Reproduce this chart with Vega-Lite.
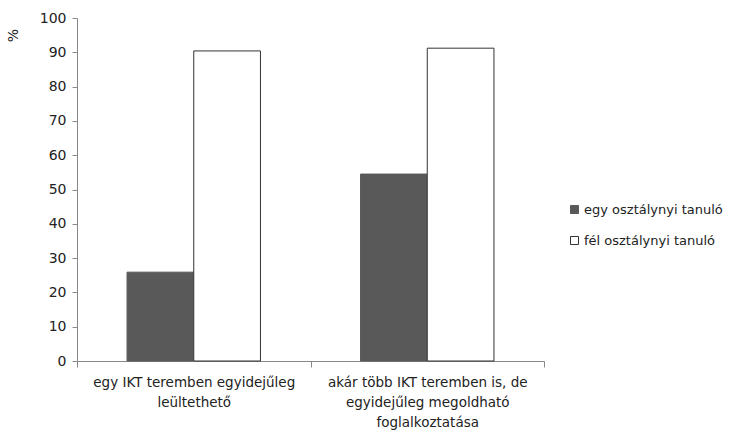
{
  "$schema": "https://vega.github.io/schema/vega-lite/v6.json",
  "autosize": {"type": "none"},
  "padding": {"left": 77, "top": 18, "right": 194, "bottom": 75},
  "width": 467,
  "height": 343,
  "background": "white",
  "config": {
    "view": {"stroke": null},
    "font": "DejaVu Sans",
    "axis": {"labelFont": "DejaVu Sans", "titleFont": "DejaVu Sans", "labelColor": "#222", "domainColor": "#888", "tickColor": "#888"}
  },
  "data": {
    "values": [
      {"cat": "egy IKT teremben egyidejűleg|leültethető", "series": "egy osztálynyi tanuló", "value": 25.9},
      {"cat": "egy IKT teremben egyidejűleg|leültethető", "series": "fél osztálynyi tanuló", "value": 90.4},
      {"cat": "akár több IKT teremben is, de|egyidejűleg megoldható|foglalkoztatása", "series": "egy osztálynyi tanuló", "value": 54.5},
      {"cat": "akár több IKT teremben is, de|egyidejűleg megoldható|foglalkoztatása", "series": "fél osztálynyi tanuló", "value": 91.2}
    ]
  },
  "mark": {"type": "bar", "stroke": "#333", "strokeWidth": 1},
  "encoding": {
    "x": {
      "field": "cat", "type": "nominal", "sort": null,
      "scale": {"paddingInner": 0, "paddingOuter": 0},
      "axis": {
        "title": null, "labelAngle": 0, "tickBand": "extent", "tickSize": 6,
        "labelExpr": "split(datum.label, '|')", "labelFontSize": 13.5, "labelLineHeight": 20,
        "labelPadding": 8, "labelLimit": 300, "domainColor": "#888"
      }
    },
    "xOffset": {
      "field": "series", "type": "nominal",
      "scale": {"paddingInner": 0, "paddingOuter": 0.75}
    },
    "y": {
      "field": "value", "type": "quantitative",
      "scale": {"domain": [0, 100]},
      "axis": {
        "title": "%", "titleAngle": -90, "titleX": -57, "titleY": 17, "titleAlign": "center",
        "titleFontWeight": "normal", "titleFontSize": 14, "titleColor": "#222",
        "values": [0,10,20,30,40,50,60,70,80,90,100], "grid": false, "tickSize": 5,
        "labelFontSize": 14, "labelPadding": 6
      }
    },
    "fill": {
      "field": "series", "type": "nominal",
      "scale": {"domain": ["egy osztálynyi tanuló", "fél osztálynyi tanuló"], "range": ["#595959", "#ffffff"]},
      "legend": {
        "title": null, "orient": "none", "legendX": 491, "legendY": 185, "padding": 0,
        "symbolType": "square", "symbolSize": 64, "symbolStrokeColor": "#333", "symbolStrokeWidth": 1,
        "labelFontSize": 13, "rowPadding": 17, "labelOffset": 3, "labelColor": "#222", "labelLimit": 200
      }
    },
    "stroke": {
      "field": "series", "type": "nominal",
      "scale": {"domain": ["egy osztálynyi tanuló", "fél osztálynyi tanuló"], "range": ["#595959", "#333333"]},
      "legend": null
    }
  }
}
